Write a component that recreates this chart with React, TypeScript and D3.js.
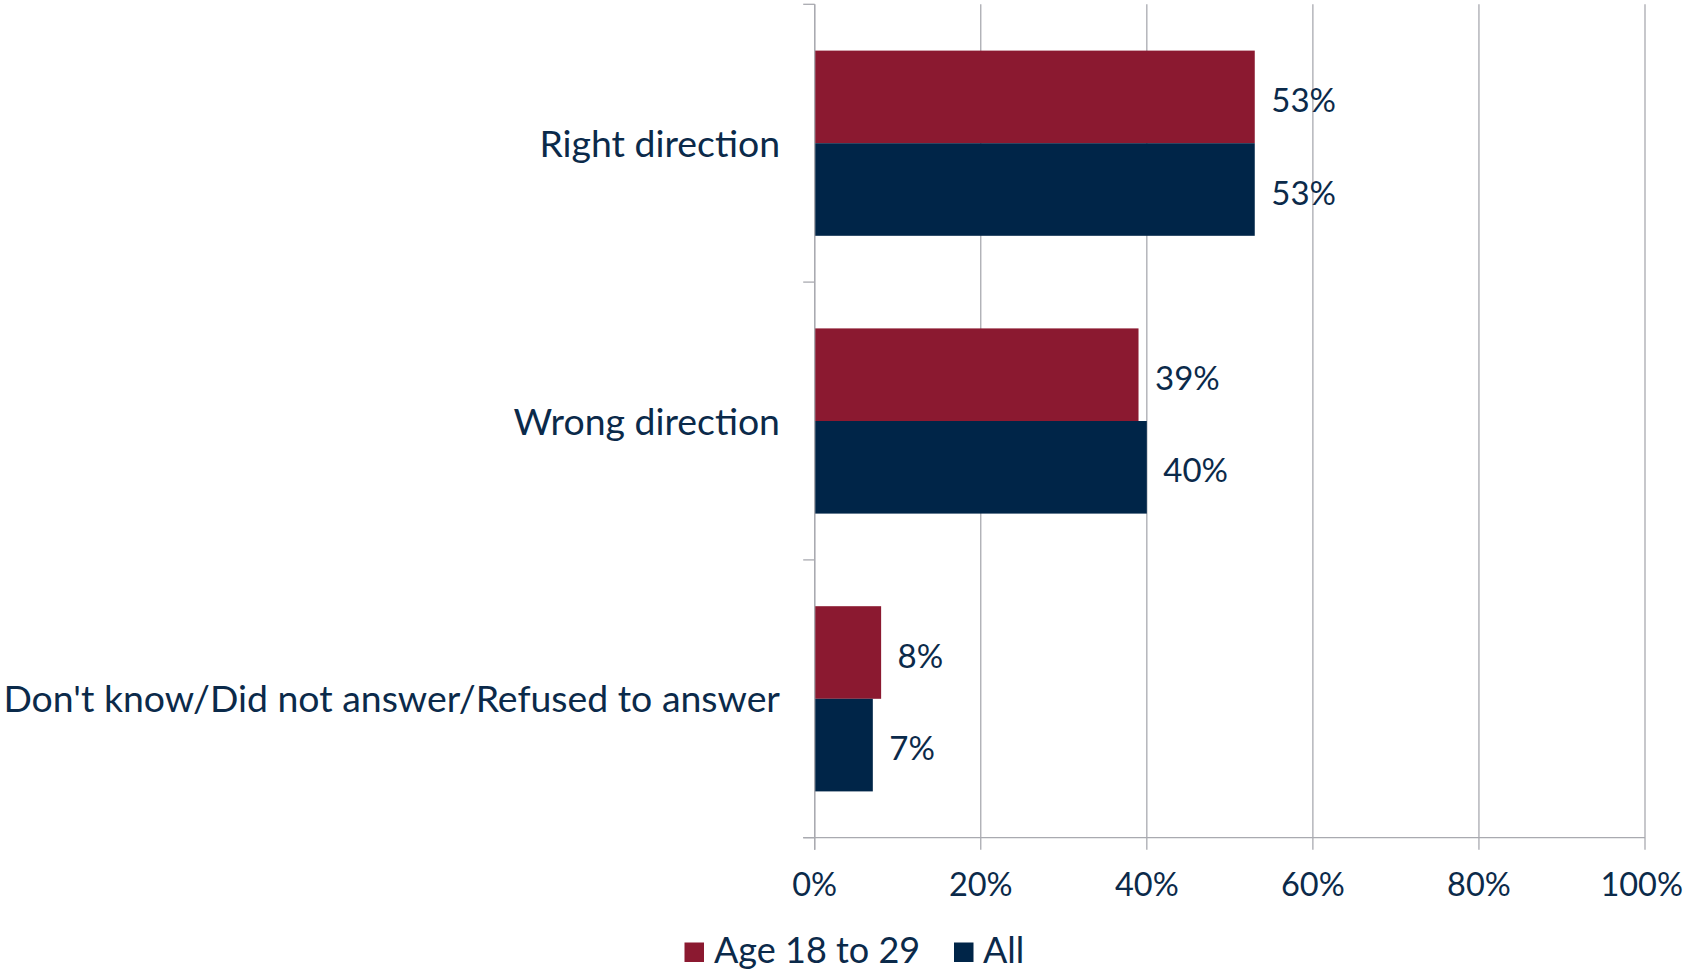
import React from "react";
import * as d3 from "d3";

const categories = ["Right direction", "Wrong direction", "Don't know/Did not answer/Refused to answer"];
const seriesNames = ["Age 18 to 29", "All"];
const ageValues = [53, 39, 8];
const allValues = [53, 40, 7];
const tickValues = [0, 20, 40, 60, 80, 100];
const colors = ["#8B1930", "#002548"];

const W = 1685;
const H = 971;
const M = { left: 814.7, right: 1645, top: 4.3, bottom: 837.7 };
const FONT = "Lato, 'Open Sans', sans-serif";
const TEXT = "#0B2A4A";
const GRID = "#A9AAB0";

export default function App() {
  const x = d3.scaleLinear().domain([0, 100]).range([M.left, M.right]);
  const y = d3.scaleBand().domain(categories).range([M.top, M.bottom]).paddingInner(0).paddingOuter(0);
  const inner = d3.scaleBand().domain(seriesNames).range([0, y.bandwidth()]).paddingOuter(0.5).paddingInner(0);
  const series = [ageValues, allValues];
  const boundaries = categories.map((c) => y(c)!).concat([M.bottom]);

  return (
    <div style={{ position: "fixed", left: 0, top: 0, width: W, height: H, background: "#fff" }}>
      <svg width={W} height={H} style={{ display: "block" }} fontFamily={FONT}>
        {/* gridlines */}
        {tickValues.map((t) => (
          <line key={"g" + t} x1={x(t)} x2={x(t)} y1={M.top} y2={M.bottom + 12} stroke={GRID} strokeWidth={1.3} />
        ))}
        {/* y-axis ticks */}
        {boundaries.map((b, i) => (
          <line key={"yt" + i} x1={M.left - 11.5} x2={M.left} y1={b} y2={b} stroke={GRID} strokeWidth={1.3} />
        ))}
        {/* x-axis line */}
        <line x1={M.left - 11.5} x2={M.right} y1={M.bottom} y2={M.bottom} stroke={GRID} strokeWidth={1.3} />
        {/* bars */}
        {categories.map((c, ci) =>
          seriesNames.map((s, si) => {
            const v = series[si][ci];
            const by = y(c)! + inner(s)!;
            return (
              <g key={c + s}>
                <rect x={x(0)} y={by} width={x(v) - x(0)} height={inner.bandwidth()} fill={colors[si]} />
                <text x={x(v) + 16.5} y={by + inner.bandwidth() / 2 + 15} fontSize={33} fill={TEXT}>
                  {v}%
                </text>
              </g>
            );
          })
        )}
        {/* y-axis line */}
        <line x1={M.left} x2={M.left} y1={M.top} y2={M.bottom + 12} stroke={GRID} strokeWidth={1.3} />
        {/* category labels */}
        {categories.map((c) => (
          <text key={c} x={780} y={y(c)! + y.bandwidth() / 2 + 13.5} textAnchor="end" fontSize={37.4} fill={TEXT}>
            {c}
          </text>
        ))}
        {/* x tick labels */}
        {tickValues.map((t, i) => {
          const last = i === tickValues.length - 1;
          return (
            <text
              key={"xl" + t}
              x={last ? W - 2 : x(t)}
              y={896}
              textAnchor={last ? "end" : "middle"}
              fontSize={32.5}
              fill={TEXT}
            >
              {t}%
            </text>
          );
        })}
        {/* legend */}
        <rect x={684.5} y={942.5} width={19.5} height={19.5} fill={colors[0]} />
        <text x={714} y={962.5} fontSize={36} fill={TEXT}>{seriesNames[0]}</text>
        <rect x={954} y={942.5} width={19.5} height={19.5} fill={colors[1]} />
        <text x={983} y={962.5} fontSize={36} fill={TEXT}>{seriesNames[1]}</text>
      </svg>
    </div>
  );
}
